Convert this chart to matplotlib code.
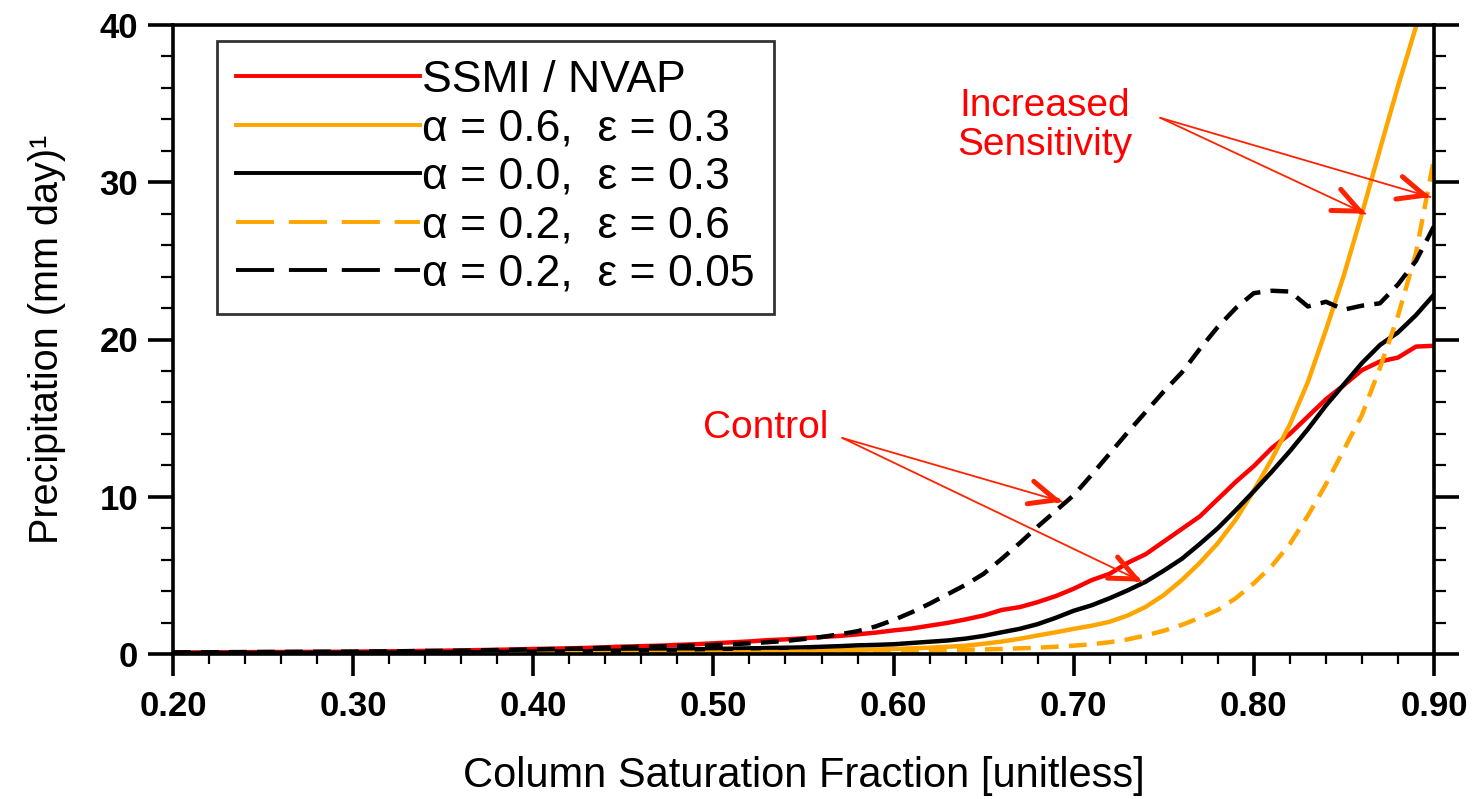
import matplotlib
matplotlib.use('Agg')
import matplotlib.pyplot as plt
import numpy as np
from matplotlib.lines import Line2D
from matplotlib.ticker import MultipleLocator, FormatStrFormatter

plt.rcParams['font.family'] = ['Liberation Sans', 'DejaVu Sans']

# Column saturation fraction grid (0.20 .. 0.90 step 0.01)
csf = np.round(np.linspace(0.20, 0.90, 71), 2)

ssmi_nvap = [
    0.10, 0.10, 0.11, 0.11, 0.12, 0.12, 0.13, 0.13, 0.14, 0.14,
    0.15, 0.16, 0.17, 0.18, 0.20, 0.21, 0.23, 0.25, 0.27, 0.29,
    0.32, 0.34, 0.36, 0.39, 0.43, 0.47, 0.50, 0.53, 0.58, 0.62,
    0.68, 0.74, 0.80, 0.88, 0.93, 1.00, 1.08, 1.15, 1.25, 1.36,
    1.50, 1.62, 1.80, 1.98, 2.20, 2.45, 2.80, 2.98, 3.30, 3.68,
    4.15, 4.70, 5.10, 5.80, 6.35, 7.15, 7.95, 8.75, 9.85, 10.95,
    11.95, 13.10, 14.00, 15.10, 16.20, 17.10, 18.05, 18.60, 18.85, 19.55,
    19.60]

a06_e03 = [
    0.03, 0.03, 0.03, 0.03, 0.04, 0.04, 0.04, 0.04, 0.05, 0.05,
    0.05, 0.05, 0.06, 0.06, 0.06, 0.07, 0.07, 0.07, 0.08, 0.08,
    0.09, 0.09, 0.10, 0.10, 0.11, 0.11, 0.12, 0.13, 0.13, 0.14,
    0.15, 0.16, 0.17, 0.18, 0.19, 0.20, 0.22, 0.24, 0.26, 0.29,
    0.32, 0.36, 0.40, 0.46, 0.53, 0.65, 0.79, 0.97, 1.18, 1.38,
    1.60, 1.80, 2.05, 2.45, 3.00, 3.75, 4.70, 5.80, 7.05, 8.55,
    10.40, 12.40, 14.60, 17.30, 20.60, 24.10, 28.00, 32.10, 36.10, 39.90,
    44.00]

a00_e03 = [
    0.05, 0.05, 0.05, 0.06, 0.06, 0.06, 0.07, 0.07, 0.07, 0.08,
    0.08, 0.08, 0.09, 0.09, 0.10, 0.10, 0.11, 0.12, 0.13, 0.14,
    0.15, 0.16, 0.17, 0.18, 0.20, 0.22, 0.24, 0.26, 0.28, 0.30,
    0.32, 0.34, 0.36, 0.38, 0.40, 0.42, 0.46, 0.50, 0.55, 0.58,
    0.62, 0.70, 0.78, 0.86, 0.98, 1.15, 1.38, 1.60, 1.90, 2.30,
    2.75, 3.10, 3.55, 4.05, 4.60, 5.30, 6.05, 7.00, 8.00, 9.15,
    10.35, 11.60, 12.90, 14.30, 15.80, 17.15, 18.50, 19.65, 20.45, 21.55,
    22.85]

a02_e06 = [
    0.02, 0.02, 0.02, 0.02, 0.02, 0.02, 0.02, 0.02, 0.02, 0.02,
    0.03, 0.03, 0.03, 0.03, 0.03, 0.03, 0.03, 0.03, 0.03, 0.03,
    0.04, 0.04, 0.05, 0.05, 0.06, 0.06, 0.07, 0.07, 0.08, 0.08,
    0.09, 0.10, 0.11, 0.12, 0.13, 0.14, 0.15, 0.16, 0.17, 0.18,
    0.19, 0.21, 0.23, 0.25, 0.27, 0.29, 0.32, 0.36, 0.40, 0.46,
    0.53, 0.62, 0.75, 0.93, 1.18, 1.48, 1.85, 2.30, 2.80, 3.55,
    4.50, 5.60, 7.00, 8.80, 10.80, 13.00, 15.20, 18.20, 21.50, 25.50,
    31.50]

a02_e005 = [
    0.10, 0.11, 0.11, 0.12, 0.12, 0.13, 0.13, 0.14, 0.14, 0.15,
    0.15, 0.16, 0.17, 0.18, 0.19, 0.20, 0.21, 0.23, 0.25, 0.27,
    0.29, 0.31, 0.33, 0.36, 0.39, 0.42, 0.45, 0.48, 0.51, 0.54,
    0.57, 0.62, 0.68, 0.75, 0.83, 0.95, 1.08, 1.25, 1.45, 1.75,
    2.16, 2.65, 3.20, 3.80, 4.40, 5.10, 6.05, 7.05, 8.10, 9.10,
    10.10, 11.40, 12.75, 14.10, 15.40, 16.70, 17.90, 19.40, 20.80, 22.00,
    22.95, 23.10, 23.05, 22.10, 22.40, 21.90, 22.15, 22.30, 23.50, 25.00,
    27.20]

labels = ['SSMI / NVAP',
          'α = 0.6,  ε = 0.3',
          'α = 0.0,  ε = 0.3',
          'α = 0.2,  ε = 0.6',
          'α = 0.2,  ε = 0.05']
series = [ssmi_nvap, a06_e03, a00_e03, a02_e06, a02_e005]
colors = ['#ff0000', '#ffa500', '#000000', '#ffa500', '#000000']
dashed = [False, False, False, True, True]

fig = plt.figure(figsize=(14.73, 7.99), dpi=100)
ax = fig.add_axes([173/1473, 145/799, 1261/1473, 629/799])

LW = 3.2
for y, c, d in zip(series, colors, dashed):
    if d:
        ax.plot(csf, y, color=c, lw=LW, dashes=(4.0, 2.3), solid_capstyle='butt')
    else:
        ax.plot(csf, y, color=c, lw=LW)

ax.set_xlim(0.20, 0.90)
ax.set_ylim(0, 40)
ax.xaxis.set_major_locator(MultipleLocator(0.1))
ax.xaxis.set_minor_locator(MultipleLocator(0.02))
ax.yaxis.set_major_locator(MultipleLocator(10))
ax.yaxis.set_minor_locator(MultipleLocator(2))
ax.xaxis.set_major_formatter(FormatStrFormatter('%.2f'))

for s in ax.spines.values():
    s.set_linewidth(2.6)

ax.tick_params(which='both', direction='out', top=False, right=True,
               labelright=False, labelsize=25)
ax.tick_params(which='major', length=18, width=2.6, pad=7)
ax.tick_params(which='minor', length=8.5, width=1.6)
ax.tick_params(axis='x', which='major', length=16, pad=10)
ax.tick_params(axis='x', which='minor', length=7)
for lbl in ax.get_xticklabels() + ax.get_yticklabels():
    lbl.set_fontweight('bold')

ax.set_xlabel('Column Saturation Fraction [unitless]', fontsize=30, labelpad=24)
ax.set_ylabel('Precipitation (mm day)¹', fontsize=28.5, labelpad=24)

# Legend with proxy handles (legend samples use longer dashes)
handles = []
for c, d in zip(colors, dashed):
    if d:
        handles.append(Line2D([], [], color=c, lw=2.8, dashes=(9.8, 3.8)))
    else:
        handles.append(Line2D([], [], color=c, lw=2.8))
leg = ax.legend(handles, labels, loc='upper left',
                bbox_to_anchor=((217-173)/1261, (654-41)/629),
                borderaxespad=0, fontsize=32, handlelength=4.15,
                handletextpad=0.05, labelspacing=0.17, borderpad=0.42,
                fancybox=False, frameon=True, edgecolor='black')
leg.get_frame().set_linewidth(2.0)

# Annotations
acol = '#ff2200'

def arrow(tail, tip):
    ax.annotate('', xy=tip, xytext=tail,
                arrowprops=dict(arrowstyle='-', color=acol, lw=1.3,
                                shrinkA=0, shrinkB=0))
    near = (tip[0] + 0.02*(tail[0]-tip[0]), tip[1] + 0.02*(tail[1]-tip[1]))
    ax.annotate('', xy=tip, xytext=near,
                arrowprops=dict(arrowstyle='->,head_length=0.95,head_width=0.42',
                                mutation_scale=20, color=acol, lw=3.6,
                                shrinkA=0, shrinkB=0))

ax.text(0.684, 33.6, 'Increased\nSensitivity', color='#ff0000', fontsize=28,
        ha='center', va='center', linespacing=1.1)
arrow((0.748, 34.1), (0.8619, 28.0))
arrow((0.748, 34.1), (0.898, 29.06))

ax.text(0.529, 14.4, 'Control', color='#ff0000', fontsize=28,
        ha='center', va='center')
arrow((0.5715, 13.74), (0.6934, 9.69))
arrow((0.5715, 13.74), (0.7379, 4.6))

fig.savefig('out.png', dpi=100)
